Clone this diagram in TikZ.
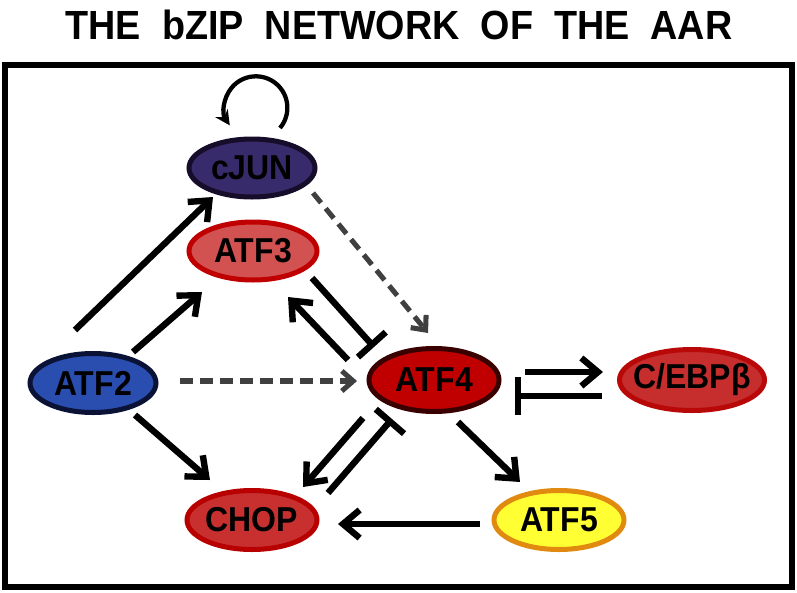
\documentclass[tikz,border=0pt]{standalone}
\usepackage{fontspec}
\setmainfont{Liberation Sans}
\usetikzlibrary{arrows.meta,calc,shapes.geometric}
\definecolor{cjunfill}{HTML}{372B6C}
\definecolor{cjunline}{HTML}{150D2A}
\definecolor{atfthreefill}{HTML}{D25252}
\definecolor{atfthreeline}{HTML}{C00000}
\definecolor{atffourfill}{HTML}{C00000}
\definecolor{atffourline}{HTML}{3A0000}
\definecolor{cebpfill}{HTML}{C62E2E}
\definecolor{cebpline}{HTML}{B80808}
\definecolor{atftwofill}{HTML}{2A4DB0}
\definecolor{atftwoline}{HTML}{0A1235}
\definecolor{chopfill}{HTML}{C83030}
\definecolor{chopline}{HTML}{B80000}
\definecolor{atffivefill}{HTML}{FFFF33}
\definecolor{atffiveline}{HTML}{E08A10}
\definecolor{dashgray}{HTML}{404040}
\newcommand{\genetext}[1]{\makebox[0pt]{\scalebox{1}[1.08]{#1}}}
\tikzset{
  gene/.style={ellipse, inner sep=0pt, line width=3.75pt,
    font=\fontsize{24}{24}\selectfont\bfseries, text=black},
  arr/.style={line width=4.8pt, -{Straight Barb[length=12.5pt,width=21pt]}},
  inh/.style={line width=4.8pt, -{Bar[width=28pt]}},
  dasharr/.style={line width=3.8pt, draw=dashgray, dash pattern=on 9.5pt off 5.5pt,
    -{Straight Barb[length=8.5pt,width=15pt]}},
  looparr/.style={line width=3.2pt, -{Stealth[length=11pt,width=11pt]}},
}
\begin{document}
\begin{tikzpicture}[x=0.75pt,y=-0.75pt]
\useasboundingbox (0,0) rectangle (797,593);
\node[font=\fontsize{28.3}{30}\selectfont\bfseries, inner sep=0pt] (title) at (399,25)
  {\scalebox{1}[1.08]{THE\hspace{0.556em}bZIP\hspace{0.556em}NETWORK\hspace{0.556em}OF\hspace{0.556em}THE\hspace{0.556em}AAR}};
\draw[line width=4pt] (5,65) rectangle (792,587);

\node[gene, fill=cjunfill, draw=cjunline, minimum width=94.5pt, minimum height=43.5pt] (cJUN) at (252,168) {\genetext{cJUN}};
\node[gene, fill=atfthreefill, draw=atfthreeline, minimum width=96pt, minimum height=43.5pt] (ATF3) at (253,251) {\genetext{ATF3}};
\node[gene, fill=atffourfill, draw=atffourline, minimum width=97.5pt, minimum height=47.25pt] (ATF4) at (434,380) {\genetext{ATF4}};
\node[gene, fill=cebpfill, draw=cebpline, minimum width=108.75pt, minimum height=45.75pt] (CEBP) at (692,380) {\genetext{C/EBPβ}};
\node[gene, fill=atftwofill, draw=atftwoline, minimum width=94.5pt, minimum height=44.25pt] (ATF2) at (93,383) {\genetext{ATF2}};
\node[gene, fill=chopfill, draw=chopline, minimum width=97.5pt, minimum height=44.25pt] (CHOP) at (252,520) {\genetext{CHOP}};
\node[gene, fill=atffivefill, draw=atffiveline, minimum width=97.5pt, minimum height=44.25pt] (ATF5) at (559,520) {\genetext{ATF5}};

% self loop on cJUN
\draw[looparr] ($(cJUN)+(28,-40)$) arc[start angle=-40, end angle=214, radius=23.6pt];

% ATF2 outputs
\draw[arr] ($(ATF2)+(-18,-53)$) -- ($(cJUN)+(-39,29)$);
\draw[arr] ($(ATF2)+(40,-31)$) -- ($(ATF3)+(-51,41)$);
\draw[arr] ($(ATF2)+(42,32)$) -- ($(CHOP)+(-42,-40)$);
\draw[dasharr] ($(ATF2)+(87,-2)$) -- ($(ATF4)+(-77,1)$);

% cJUN to ATF4
\draw[dasharr] ($(cJUN)+(61,25)$) -- ($(ATF4)+(-6,-47)$);

% ATF3 / ATF4
\draw[arr] ($(ATF4)+(-86,-20)$) -- ($(ATF3)+(35,46)$);
\draw[inh] ($(ATF3)+(59,27)$) -- ($(ATF4)+(-60,-33)$);

% ATF4 / CEBP
\draw[arr] ($(ATF4)+(91,-8)$) -- ($(CEBP)+(-89,-8)$);
\draw[inh] ($(CEBP)+(-90,16)$) -- ($(ATF4)+(81,16)$);

% ATF4 / CHOP
\draw[arr] ($(ATF4)+(-71,38)$) -- ($(CHOP)+(51,-33)$);
\draw[inh] ($(CHOP)+(76,-27)$) -- ($(ATF4)+(-42,39)$);

% ATF4 to ATF5
\draw[arr] ($(ATF4)+(24,42)$) -- ($(ATF5)+(-39,-38)$);

% ATF5 to CHOP
\draw[arr] ($(ATF5)+(-79,4)$) -- ($(CHOP)+(86,4)$);
\end{tikzpicture}
\end{document}
